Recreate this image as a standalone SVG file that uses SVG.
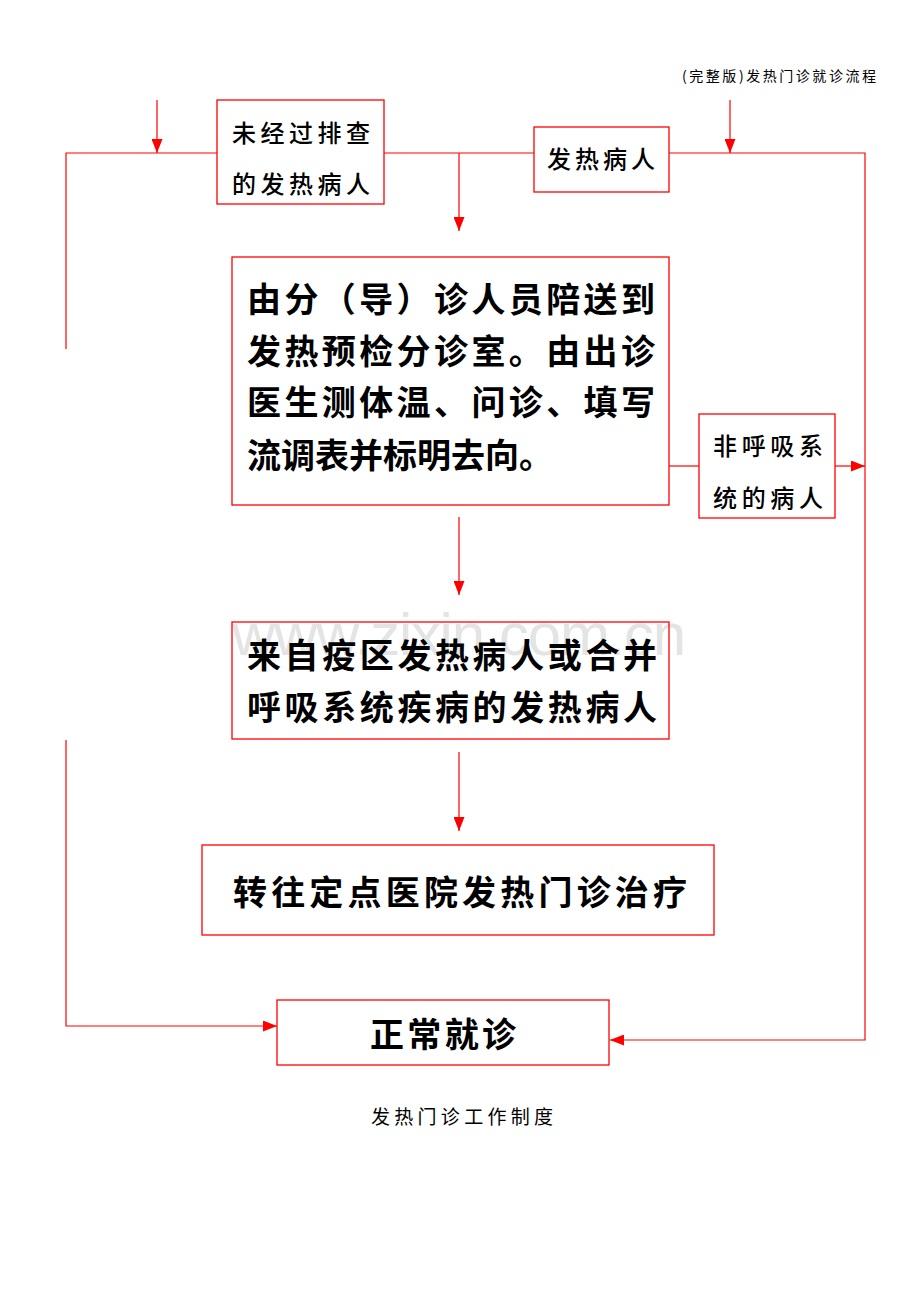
<svg xmlns="http://www.w3.org/2000/svg" width="920" height="1302" viewBox="0 0 920 1302">
<style>
.box{fill:none;stroke:#ff0000;stroke-width:1.3}
.ln{fill:none;stroke:#ff0000;stroke-width:1.2}
.big{font-family:"Noto Sans CJK SC",sans-serif;font-weight:bold;font-size:34px;fill:#000}
.mid{font-family:"Noto Sans CJK SC",sans-serif;font-weight:500;font-size:24px;fill:#000}
.small{font-family:"Noto Sans CJK SC",sans-serif;font-size:14px;fill:#000}
.foot{font-family:"Noto Sans CJK SC",sans-serif;font-size:19px;fill:#000}
.wm{font-family:"Liberation Sans",sans-serif;font-size:60px;fill:#e4e4e4}
</style>
<defs>
<marker id="ah" viewBox="0 0 14 11" refX="14" refY="5.5" markerWidth="14" markerHeight="11" markerUnits="userSpaceOnUse" orient="auto">
<path d="M0,0 L14,5.5 L0,11 Z" fill="#ff0000"/>
</marker>
</defs>
<rect width="920" height="1302" fill="#fff"/>
<text class="small" x="876" y="81" text-anchor="end" textLength="194">(完整版)发热门诊就诊流程</text>
<text class="wm" x="232" y="655" textLength="454">www.zixin.com.cn</text>
<g id="connectors">
<polyline class="ln" points="217,153 66,153 66,349"/>
<line class="ln" x1="384" y1="153" x2="534" y2="153"/>
<polyline class="ln" points="669,153 865,153 865,1040 610,1040" marker-end="url(#ah)"/>
<line class="ln" x1="157" y1="100" x2="157" y2="153" marker-end="url(#ah)"/>
<line class="ln" x1="730" y1="100" x2="730" y2="153" marker-end="url(#ah)"/>
<line class="ln" x1="459" y1="153" x2="459" y2="231" marker-end="url(#ah)"/>
<line class="ln" x1="669" y1="466" x2="699" y2="466"/>
<line class="ln" x1="835" y1="466" x2="865" y2="466" marker-end="url(#ah)"/>
<line class="ln" x1="459" y1="517" x2="459" y2="595" marker-end="url(#ah)"/>
<line class="ln" x1="459" y1="752" x2="459" y2="831" marker-end="url(#ah)"/>
<polyline class="ln" points="66,740 66,1026 277,1026" marker-end="url(#ah)"/>
</g>
<g id="n1">
<rect class="box" x="217" y="100" width="167" height="104"/>
<text class="mid" x="232" y="142" textLength="138">未经过排查</text>
<text class="mid" x="232" y="193" textLength="138">的发热病人</text>
</g>
<g id="n2">
<rect class="box" x="534" y="127" width="135" height="65"/>
<text class="mid" x="547" y="168" textLength="108">发热病人</text>
</g>
<g id="n3">
<rect class="box" x="232" y="257" width="437" height="248"/>
<text class="big" x="247" y="312" textLength="408">由分（导）诊人员陪送到</text>
<text class="big" x="247" y="364" textLength="408">发热预检分诊室。由出诊</text>
<text class="big" x="247" y="415" textLength="408">医生测体温、问诊、填写</text>
<text class="big" x="247" y="468">流调表并标明去向。</text>
</g>
<g id="n4">
<rect class="box" x="699" y="414" width="136" height="104"/>
<text class="mid" x="713" y="455" textLength="110">非呼吸系</text>
<text class="mid" x="713" y="507" textLength="110">统的病人</text>
</g>
<g id="n5">
<rect class="box" x="232" y="622" width="437" height="117"/>
<text class="big" x="247" y="668" textLength="410">来自疫区发热病人或合并</text>
<text class="big" x="247" y="720" textLength="410">呼吸系统疾病的发热病人</text>
</g>
<g id="n6">
<rect class="box" x="202" y="845" width="512" height="90"/>
<text class="big" x="233" y="905" textLength="454">转往定点医院发热门诊治疗</text>
</g>
<g id="n7">
<rect class="box" x="277" y="1000" width="332" height="65"/>
<text class="big" x="370" y="1047" textLength="146">正常就诊</text>
</g>
<text class="foot" x="371" y="1124" textLength="182">发热门诊工作制度</text>
</svg>
